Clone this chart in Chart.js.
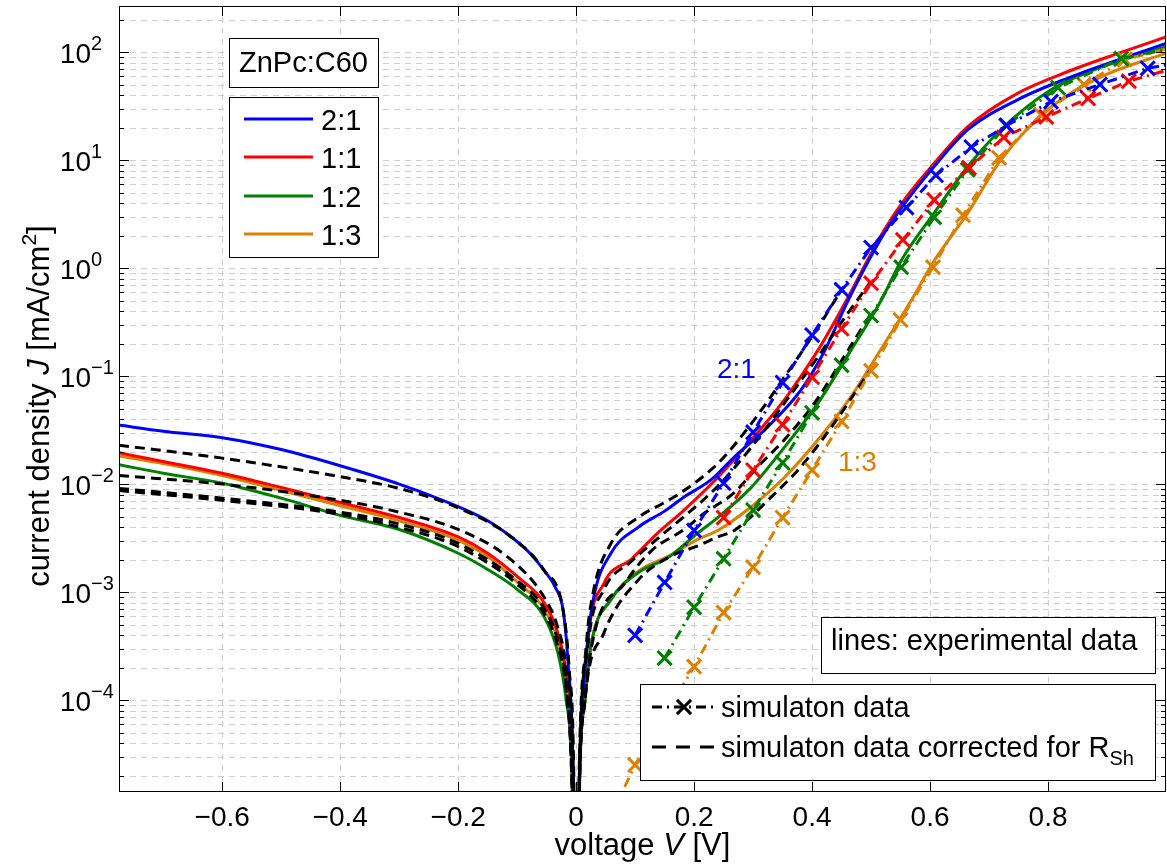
<!DOCTYPE html>
<html>
<head>
<meta charset="utf-8">
<script src="https://cdn.jsdelivr.net/npm/chart.js@4/dist/chart.umd.min.js"></script>
<style>
  html, body { margin: 0; padding: 0; background: #fff; }
</style>
</head>
<body>
<canvas id="ivChart" width="1167" height="866"></canvas>
<script>
// ---- data (voltage V in volts, current density J in mA/cm2) ----
const xMin = -0.775, xMax = 1.0;
const yMin = 1.41e-5, yMax = 267;
const xTicks = [-0.6, -0.4, -0.2, 0, 0.2, 0.4, 0.6, 0.8];
const xTickLabels = ['\u22120.6', '\u22120.4', '\u22120.2', '0', '0.2', '0.4', '0.6', '0.8'];
const yDecades = [-4, -3, -2, -1, 0, 1, 2];
const yTickExps = ['\u22124', '\u22123', '\u22122', '\u22121', '0', '1', '2'];

const seriesNames = ['2:1', '1:1', '1:2', '1:3'];
const seriesColors = ['#0000ff', '#ff0000', '#008000', '#dd8000'];

// experimental data (solid lines)
const expBlueV = [-0.775, -0.7, -0.6, -0.5, -0.4, -0.3, -0.2, -0.15, -0.11, -0.08, -0.054, -0.035, -0.022, -0.014, -0.005, 0, 0.006, 0.017, 0.029, 0.059, 0.105, 0.15, 0.183, 0.229, 0.268, 0.325, 0.381, 0.42, 0.461, 0.522, 0.56, 0.607, 0.664, 0.749, 0.834, 0.92, 1.0];
const expBlueJ = [3.52e-2, 3.09e-2, 2.69e-2, 2.09e-2, 1.48e-2, 1.0e-2, 6.17e-3, 4.57e-3, 3.24e-3, 2.34e-3, 1.58e-3, 1.10e-3, 6.76e-4, 2.34e-4, 2.0e-5, 1e-7, 2.0e-5, 2.51e-4, 8.5e-4, 2.29e-3, 3.98e-3, 5.62e-3, 7.59e-3, 1.10e-2, 1.78e-2, 3.39e-2, 7.41e-2, 0.166, 0.501, 2.09, 4.17, 8.71, 19.1, 36.3, 57.5, 85.1, 120];

const expRedV = [-0.775, -0.7, -0.6, -0.5, -0.4, -0.3, -0.2, -0.15, -0.099, -0.054, -0.031, -0.017, -0.005, 0, 0.006, 0.02, 0.047, 0.093, 0.139, 0.183, 0.24, 0.297, 0.353, 0.41, 0.449, 0.522, 0.56, 0.607, 0.664, 0.749, 0.834, 0.92, 1.0];
const expRedJ = [1.95e-2, 1.62e-2, 1.26e-2, 9.3e-3, 6.76e-3, 4.90e-3, 3.24e-3, 2.29e-3, 1.38e-3, 7.94e-4, 4.17e-4, 1.78e-4, 2.0e-5, 1e-7, 2.0e-5, 3.55e-4, 1.20e-3, 2.0e-3, 3.55e-3, 5.75e-3, 1.15e-2, 2.57e-2, 6.03e-2, 0.174, 0.407, 2.24, 4.57, 9.33, 20.4, 41.7, 66.1, 97.7, 138];

const expGreenV = [-0.775, -0.7, -0.6, -0.5, -0.4, -0.3, -0.2, -0.15, -0.099, -0.054, -0.031, -0.017, -0.007, 0, 0.006, 0.015, 0.025, 0.059, 0.105, 0.156, 0.207, 0.24, 0.297, 0.353, 0.41, 0.466, 0.517, 0.551, 0.607, 0.664, 0.72, 0.805, 0.89, 1.0];
const expGreenJ = [1.51e-2, 1.26e-2, 1.02e-2, 7.41e-3, 5.13e-3, 3.80e-3, 2.29e-3, 1.62e-3, 1.05e-3, 5.89e-4, 2.75e-4, 1.0e-4, 2.0e-5, 1e-7, 2.0e-5, 1.0e-4, 3.16e-4, 8.51e-4, 1.51e-3, 2.09e-3, 3.55e-3, 4.90e-3, 9.33e-3, 2.19e-2, 5.62e-2, 0.174, 0.501, 1.17, 3.24, 8.71, 19.1, 44.7, 72.4, 112];

const expOrangeV = [-0.775, -0.7, -0.6, -0.5, -0.4, -0.3, -0.2, -0.15, -0.099, -0.054, -0.031, -0.017, -0.007, 0, 0.006, 0.015, 0.025, 0.059, 0.105, 0.156, 0.207, 0.24, 0.297, 0.353, 0.41, 0.466, 0.517, 0.568, 0.607, 0.664, 0.72, 0.805, 0.89, 1.0];
const expOrangeJ = [1.82e-2, 1.55e-2, 1.20e-2, 8.71e-3, 6.31e-3, 4.57e-3, 3.02e-3, 2.14e-3, 1.23e-3, 6.92e-4, 3.55e-4, 1.41e-4, 2.0e-5, 1e-7, 2.0e-5, 1.0e-4, 3.16e-4, 8.51e-4, 1.55e-3, 2.14e-3, 3.09e-3, 3.72e-3, 6.17e-3, 1.15e-2, 2.57e-2, 6.46e-2, 0.178, 0.501, 1.17, 3.24, 10.0, 30.9, 58.9, 97.7];

// simulation data (dash-dot with x markers)
const simBlueV = [0.1, 0.15, 0.2, 0.25, 0.3, 0.35, 0.4, 0.45, 0.5, 0.56, 0.61, 0.67, 0.73, 0.805, 0.888, 0.969, 1.0];
const simBlueJ = [3.98e-4, 1.23e-3, 3.72e-3, 1.02e-2, 3.02e-2, 8.71e-2, 0.240, 0.631, 1.55, 3.63, 7.24, 13.2, 20.9, 34.7, 50.1, 70.8, 75.9];

const simRedV = [0.25, 0.3, 0.35, 0.4, 0.45, 0.5, 0.554, 0.607, 0.666, 0.725, 0.797, 0.868, 0.937, 1.0];
const simRedJ = [4.90e-3, 1.35e-2, 3.55e-2, 9.77e-2, 0.275, 0.724, 1.82, 4.27, 8.51, 16.2, 25.1, 37.2, 53.7, 67.6];

const simGreenV = [0.15, 0.2, 0.25, 0.3, 0.35, 0.4, 0.45, 0.5, 0.551, 0.607, 0.664, 0.729, 0.817, 0.924, 1.0];
const simGreenJ = [2.45e-4, 7.24e-4, 2.04e-3, 5.75e-3, 1.58e-2, 4.57e-2, 0.126, 0.363, 1.02, 2.95, 8.13, 20.9, 46.8, 87.1, 105];

const simOrangeV = [0.05, 0.1, 0.15, 0.2, 0.25, 0.3, 0.35, 0.4, 0.45, 0.5, 0.55, 0.605, 0.656, 0.717, 0.788, 0.861, 0.93, 1.0];
const simOrangeJ = [6.76e-6, 2.51e-5, 7.24e-5, 2.04e-4, 6.46e-4, 1.70e-3, 4.90e-3, 1.35e-2, 3.80e-2, 0.112, 0.331, 1.02, 3.09, 10.5, 26.3, 50.1, 85.1, 107];

// simulation data corrected for R_Sh (black dashed)
const corBlueV = [-0.775, -0.6, -0.4, -0.3, -0.2, -0.11, -0.054, -0.022, -0.012, -0.004, 0, 0.005, 0.017, 0.029, 0.059, 0.105, 0.15, 0.183, 0.24, 0.297, 0.353, 0.41, 0.45];
const corBlueJ = [2.29e-2, 1.74e-2, 1.17e-2, 9.12e-3, 6.03e-3, 3.24e-3, 1.58e-3, 6.76e-4, 2.0e-4, 2.0e-5, 1e-7, 2.0e-5, 3.16e-4, 1.0e-3, 2.82e-3, 4.90e-3, 6.76e-3, 8.71e-3, 1.55e-2, 3.63e-2, 9.77e-2, 0.282, 0.631];

const corRedV = [-0.775, -0.6, -0.4, -0.3, -0.2, -0.115, -0.054, -0.031, -0.017, -0.005, 0, 0.005, 0.02, 0.047, 0.093, 0.139, 0.183, 0.24, 0.297, 0.353, 0.41, 0.45, 0.5];
const corRedJ = [1.20e-2, 1.0e-2, 7.08e-3, 5.50e-3, 3.80e-3, 2.09e-3, 8.91e-4, 4.68e-4, 2.0e-4, 2.0e-5, 1e-7, 1.58e-5, 3.16e-4, 1.05e-3, 1.91e-3, 3.16e-3, 5.01e-3, 9.55e-3, 2.19e-2, 5.62e-2, 0.151, 0.316, 0.759];

const corGreenV = [-0.775, -0.6, -0.4, -0.3, -0.2, -0.099, -0.054, -0.031, -0.017, -0.007, 0, 0.005, 0.015, 0.031, 0.082, 0.127, 0.183, 0.217, 0.268, 0.308, 0.353, 0.404, 0.454, 0.5];
const corGreenJ = [8.71e-3, 7.08e-3, 5.25e-3, 3.98e-3, 2.63e-3, 1.17e-3, 6.31e-4, 3.16e-4, 1.26e-4, 1.58e-5, 1e-7, 1.26e-5, 1.0e-4, 4.17e-4, 1.20e-3, 2.40e-3, 3.80e-3, 5.37e-3, 8.32e-3, 1.45e-2, 2.57e-2, 5.62e-2, 0.151, 0.380];

const corOrangeV = [-0.775, -0.6, -0.4, -0.3, -0.2, -0.099, -0.054, -0.031, -0.017, -0.007, 0, 0.005, 0.015, 0.047, 0.105, 0.156, 0.207, 0.24, 0.268, 0.325, 0.381, 0.437, 0.5];
const corOrangeJ = [9.12e-3, 7.41e-3, 5.50e-3, 4.27e-3, 2.82e-3, 1.26e-3, 7.08e-4, 3.55e-4, 1.41e-4, 1.58e-5, 1e-7, 1.26e-5, 1.0e-4, 4.17e-4, 1.29e-3, 2.09e-3, 2.69e-3, 3.24e-3, 3.72e-3, 7.08e-3, 1.45e-2, 3.63e-2, 0.117];

// ---- helpers ----
const FONT = "'Liberation Sans', Arial, Helvetica, sans-serif";
const font = (size, italic) => (italic ? 'italic ' : '') + size + 'px ' + FONT;
const pts = (vs, js) => vs.map((v, i) => ({ x: v, y: js[i] }));

// minor + major gridline values for the log axis (1..9 per decade)
const yGridValues = [];
for (let e = -5; e <= 2; e++) {
  for (let k = 1; k <= 9; k++) {
    const v = k * Math.pow(10, e);
    if (v >= yMin && v <= yMax) yGridValues.push(v);
  }
}

const simSets = [[simBlueV, simBlueJ], [simRedV, simRedJ], [simGreenV, simGreenJ], [simOrangeV, simOrangeJ]];
const corSets = [[corBlueV, corBlueJ], [corRedV, corRedJ], [corGreenV, corGreenJ], [corOrangeV, corOrangeJ]];
const expSets = [[expBlueV, expBlueJ], [expRedV, expRedJ], [expGreenV, expGreenJ], [expOrangeV, expOrangeJ]];

const datasets = [];
// first in the list ends up on top
simSets.forEach(([vs, js], i) => datasets.push({
  data: pts(vs, js),
  borderColor: seriesColors[i], backgroundColor: seriesColors[i],
  borderWidth: 3, borderDash: [10, 5, 2, 5],
  pointStyle: 'crossRot',
  pointRadius: vs.map((v, k) => (k === vs.length - 1 ? 0 : 10)),
  pointBorderWidth: 3, pointBorderColor: seriesColors[i],
  clip: 0
}));
corSets.forEach(([vs, js]) => datasets.push({
  data: pts(vs, js),
  borderColor: '#000', borderWidth: 3, borderDash: [10, 6],
  cubicInterpolationMode: 'monotone',
  pointRadius: 0, clip: 0
}));
expSets.forEach(([vs, js], i) => datasets.push({
  data: pts(vs, js),
  borderColor: seriesColors[i], borderWidth: 3,
  cubicInterpolationMode: 'monotone',
  pointRadius: 0, clip: 0
}));

function drawRich(ctx, parts, x, y, align) {
  // parts: [text, size, italic, dy]
  let w = 0;
  parts.forEach(p => { ctx.font = font(p[1], p[2]); w += ctx.measureText(p[0]).width; });
  let cx = align === 'center' ? x - w / 2 : (align === 'right' ? x - w : x);
  ctx.textAlign = 'left';
  parts.forEach(p => {
    ctx.font = font(p[1], p[2]);
    ctx.fillText(p[0], cx, y + (p[3] || 0));
    cx += ctx.measureText(p[0]).width;
  });
}

function box(ctx, x1, y1, x2, y2) {
  ctx.fillStyle = '#fff';
  ctx.fillRect(x1, y1, x2 - x1, y2 - y1);
  ctx.strokeStyle = '#000';
  ctx.lineWidth = 1;
  ctx.setLineDash([]);
  ctx.strokeRect(x1 + 0.5, y1 + 0.5, x2 - x1, y2 - y1);
}

function cross(ctx, cx, cy, r) {
  const o = r * Math.SQRT1_2;
  ctx.beginPath();
  ctx.moveTo(cx - o, cy - o); ctx.lineTo(cx + o, cy + o);
  ctx.moveTo(cx - o, cy + o); ctx.lineTo(cx + o, cy - o);
  ctx.stroke();
}

// dashed MATLAB grid, drawn under the data
const dashedGrid = {
  id: 'dashedGrid',
  beforeDatasetsDraw(chart) {
    const { ctx, chartArea: a, scales: { x, y } } = chart;
    ctx.save();
    ctx.strokeStyle = '#cfcfcf';
    ctx.lineWidth = 1;
    ctx.setLineDash([6, 5]);
    ctx.beginPath();
    xTicks.forEach(v => {
      const px = Math.round(x.getPixelForValue(v)) + 0.5;
      ctx.moveTo(px, a.top); ctx.lineTo(px, a.bottom);
    });
    yGridValues.forEach(v => {
      const py = Math.round(y.getPixelForValue(v)) + 0.5;
      ctx.moveTo(a.left, py); ctx.lineTo(a.right, py);
    });
    ctx.stroke();
    ctx.restore();
  }
};

// axes frame, inward ticks, tick labels, titles and the legend boxes
const matlabFrame = {
  id: 'matlabFrame',
  afterDatasetsDraw(chart) {
    const { ctx, chartArea: a, scales: { x, y } } = chart;
    ctx.save();
    ctx.strokeStyle = '#000';
    ctx.lineWidth = 1;
    ctx.setLineDash([]);
    ctx.strokeRect(a.left + 0.5, a.top + 0.5, a.right - a.left - 1, a.bottom - a.top - 1);

    ctx.beginPath();
    xTicks.forEach(v => {
      const px = Math.round(x.getPixelForValue(v)) + 0.5;
      ctx.moveTo(px, a.bottom); ctx.lineTo(px, a.bottom - 10);
      ctx.moveTo(px, a.top); ctx.lineTo(px, a.top + 10);
    });
    yGridValues.forEach(v => {
      const lg = Math.log10(v);
      const len = Math.abs(lg - Math.round(lg)) < 1e-6 ? 10 : 5;
      const py = Math.round(y.getPixelForValue(v)) + 0.5;
      ctx.moveTo(a.left, py); ctx.lineTo(a.left + len, py);
      ctx.moveTo(a.right, py); ctx.lineTo(a.right - len, py);
    });
    ctx.stroke();

    ctx.fillStyle = '#000';
    ctx.textBaseline = 'alphabetic';
    // x tick labels
    ctx.font = font(28);
    ctx.textAlign = 'center';
    xTicks.forEach((v, i) => ctx.fillText(xTickLabels[i], x.getPixelForValue(v), 826));
    // y tick labels 10^n
    yDecades.forEach((e, i) => {
      const py = y.getPixelForValue(Math.pow(10, e));
      ctx.font = font(28);
      ctx.textAlign = 'right';
      ctx.fillText('10', 91, py + 11);
      ctx.font = font(20);
      ctx.textAlign = 'left';
      ctx.fillText(yTickExps[i], 91, py - 2);
    });

    // axis titles
    drawRich(ctx, [['voltage ', 31], ['V', 31, true], [' [V]', 31]], (a.left + a.right) / 2, 855, 'center');
    ctx.save();
    ctx.translate(49, 406);
    ctx.rotate(-Math.PI / 2);
    drawRich(ctx, [['current density ', 31], ['J', 31, true], [' [mA/cm', 31], ['2', 21, false, -13], [']', 31]], 0, 0, 'center');
    ctx.restore();

    // in-plot labels
    ctx.font = font(28);
    ctx.textAlign = 'left';
    ctx.fillStyle = seriesColors[0];
    ctx.fillText('2:1', 717, 378);
    ctx.fillStyle = seriesColors[3];
    ctx.fillText('1:3', 838, 471);

    // legend: blend ratio
    box(ctx, 229, 38, 378, 87);
    ctx.fillStyle = '#000';
    ctx.font = font(29);
    ctx.textAlign = 'center';
    ctx.fillText('ZnPc:C60', 303.5, 72);
    box(ctx, 229, 97, 378, 257);
    const rows = [119, 157, 196, 234];
    rows.forEach((ry, i) => {
      ctx.strokeStyle = seriesColors[i];
      ctx.lineWidth = 3;
      ctx.beginPath(); ctx.moveTo(244, ry); ctx.lineTo(313, ry); ctx.stroke();
      ctx.fillStyle = '#000';
      ctx.textAlign = 'left';
      ctx.fillText(seriesNames[i], 321, ry + 11);
    });

    // legend: line meaning
    box(ctx, 821, 617, 1155, 673);
    ctx.fillStyle = '#000';
    ctx.font = font(29);
    ctx.textAlign = 'left';
    ctx.fillText('lines: experimental data', 831, 650);

    box(ctx, 640, 684, 1155, 780);
    ctx.strokeStyle = '#000';
    ctx.lineWidth = 3;
    ctx.setLineDash([10, 5, 2, 5]);
    ctx.beginPath(); ctx.moveTo(652, 707); ctx.lineTo(716, 707); ctx.stroke();
    ctx.setLineDash([]);
    cross(ctx, 684, 707, 10);
    ctx.setLineDash([14, 10]);
    ctx.beginPath(); ctx.moveTo(652, 747); ctx.lineTo(716, 747); ctx.stroke();
    ctx.setLineDash([]);
    ctx.fillStyle = '#000';
    drawRich(ctx, [['simulaton data', 29]], 721, 717, 'left');
    drawRich(ctx, [['simulaton data corrected for R', 29], ['Sh', 20, false, 8]], 721, 757, 'left');
    ctx.restore();
  }
};

new Chart(document.getElementById('ivChart'), {
  type: 'line',
  data: { datasets },
  options: {
    responsive: false,
    animation: false,
    events: [],
    devicePixelRatio: 1,
    layout: { autoPadding: false, padding: { top: 6, right: 1, left: 0, bottom: 0 } },
    plugins: { legend: { display: false }, tooltip: { enabled: false } },
    elements: { line: { tension: 0 } },
    scales: {
      x: {
        type: 'linear', min: xMin, max: xMax,
        afterBuildTicks: s => { s.ticks = xTicks.map(v => ({ value: v })); },
        afterFit: s => { s.height = 74; s.paddingLeft = 0; s.paddingRight = 0; },
        ticks: { display: false },
        grid: { display: false },
        border: { display: false }
      },
      y: {
        type: 'logarithmic', min: yMin, max: yMax,
        afterBuildTicks: s => { s.ticks = yGridValues.map(v => ({ value: v })); },
        afterFit: s => { s.width = 119; s.paddingTop = 0; s.paddingBottom = 0; },
        ticks: { display: false },
        grid: { display: false },
        border: { display: false }
      }
    }
  },
  plugins: [dashedGrid, matlabFrame]
});
</script>
</body>
</html>
